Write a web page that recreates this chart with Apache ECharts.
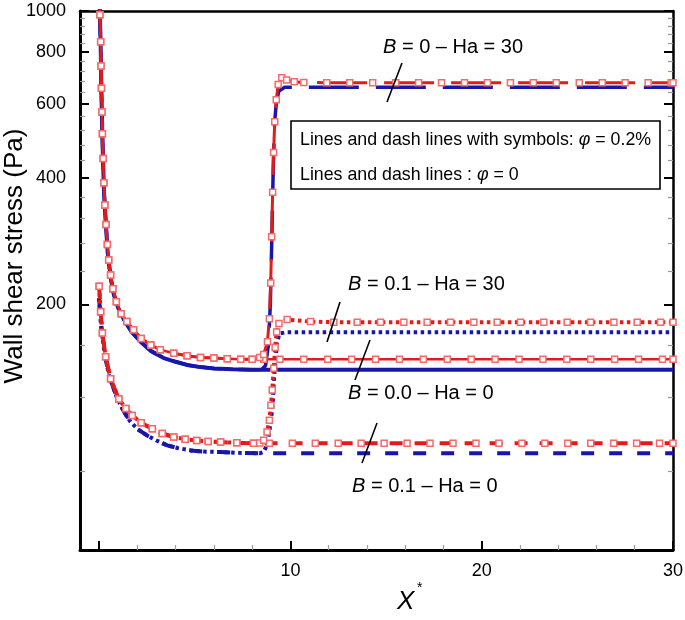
<!DOCTYPE html>
<html>
<head>
<meta charset="utf-8">
<script src="https://cdn.jsdelivr.net/npm/echarts@6/dist/echarts.min.js"></script>
<style>
  html, body { margin: 0; padding: 0; background: #fff; }
  #graph { width: 685px; height: 620px; }
</style>
</head>
<body>
<div id="graph"></div>
<script>
// ---- data: [X*, wall shear stress (Pa)] ----
var upB0Sym = [[0.00, 1150], [0.04, 980], [0.08, 845], [0.10, 740], [0.12, 655], [0.15, 575], [0.17, 510], [0.21, 445],
    [0.25, 390], [0.30, 345], [0.36, 310], [0.43, 278], [0.50, 255], [0.60, 235], [0.72, 218], [0.90, 203], [1.15, 190],
    [1.45, 182], [1.80, 174], [2.20, 166], [2.70, 160], [3.20, 156], [3.90, 153], [4.60, 151], [5.30, 149.5], [6.00, 149],
    [6.70, 148.5], [7.40, 148], [8.00, 148]];
var upB0 = [[0.00, 1150], [0.04, 970], [0.08, 830], [0.12, 640], [0.17, 500], [0.25, 375], [0.34, 318], [0.45, 265],
    [0.60, 232], [0.77, 211], [1.0, 196], [1.3, 184], [1.7, 172], [2.17, 163], [2.7, 155], [3.38, 149], [4.0, 146],
    [4.6, 143.5], [5.3, 141.8], [6.0, 140.8], [7.0, 140.1], [8.0, 139.8]];
var upB01Sym = [[0.0, 221], [0.08, 192], [0.17, 171], [0.34, 150], [0.6, 133], [1.03, 119], [1.4, 113], [1.73, 108.8],
    [2.2, 104.5], [2.78, 101.1], [3.3, 98.5], [3.9, 96.6], [4.5, 95.5], [5.1, 94.8], [5.7, 94.3], [6.35, 94], [7.2, 93.6],
    [8.07, 93.4]];
var upB01 = [[0.0, 207], [0.08, 182], [0.25, 157], [0.51, 135.7], [0.95, 119.3], [1.3, 111], [1.64, 105], [2.0, 101],
    [2.5, 97.5], [3.0, 94.8], [3.56, 92.3], [4.1, 91], [4.78, 89.8], [5.5, 89.2], [6.35, 89], [7.3, 88.6], [8.4, 88.4]];

// downstream parts (after the magnetic field region starts near X* = 9)
var downB0Ha0Sym = [[8.6, 148], [9.45, 148], [10.7, 148], [11.95, 148], [13.2, 148], [14.45, 148], [15.7, 148], [16.95, 148],
    [18.2, 148], [19.45, 148], [20.7, 148], [21.95, 148], [23.2, 148], [24.45, 148], [25.7, 148], [26.95, 148], [28.2, 148],
    [29.45, 148], [30, 148]];
var downB0Ha0 = [[30, 139.8]];
var downB0Ha30Sym = [[8.4, 149.5], [8.6, 152], [8.8, 163], [8.9, 185], [8.97, 225], [9.02, 290], [9.07, 370], [9.12, 460],
    [9.18, 545], [9.26, 615], [9.36, 668], [9.55, 693], [9.8, 685], [10.2, 678], [10.7, 676], [11.9, 675], [13.1, 675],
    [14.3, 675], [15.5, 675], [16.7, 675], [17.9, 675], [19.1, 675], [20.3, 675], [21.5, 675], [22.7, 675], [23.9, 675],
    [25.1, 675], [26.3, 675], [27.5, 675], [28.7, 675], [29.9, 675], [30, 675]];
var downB0Ha30 = [[8.5, 140], [8.7, 143], [8.85, 160], [8.95, 200], [9.03, 290], [9.1, 420], [9.17, 540], [9.27, 610],
    [9.4, 645], [9.7, 658], [30, 658]];
var downB01Ha0Sym = [[8.9, 93.4], [10.1, 93.4], [11.3, 93.4], [12.5, 93.4], [13.7, 93.4], [14.9, 93.4], [16.1, 93.4],
    [17.3, 93.4], [18.5, 93.4], [19.7, 93.4], [20.9, 93.4], [22.1, 93.4], [23.3, 93.4], [24.5, 93.4], [25.7, 93.4],
    [26.9, 93.4], [28.1, 93.4], [29.3, 93.4], [30, 93.4]];
var downB01Ha0 = [[30, 88.4]];
var downB01Ha30Sym = [[8.4, 93.5], [8.6, 95], [8.78, 99.3], [8.9, 106], [8.98, 115], [9.05, 125], [9.13, 141], [9.2, 158],
    [9.28, 172], [9.4, 180], [9.83, 184], [11.05, 182], [12.27, 181.4], [13.49, 181.4], [14.71, 181.4], [15.93, 181.4],
    [17.15, 181.4], [18.37, 181.4], [19.59, 181.4], [20.81, 181.4], [22.03, 181.4], [23.25, 181.4], [24.47, 181.4],
    [25.69, 181.4], [26.91, 181.4], [28.13, 181.4], [29.35, 181.4], [30, 181.4]];
var downB01Ha30 = [[8.6, 89], [8.75, 92], [8.87, 97.5], [8.99, 106.8], [9.08, 117], [9.13, 130.8], [9.22, 148.6],
    [9.3, 163], [9.44, 170.5], [9.75, 171.6], [30, 171.6]];

// axis ticks
var xMajor = [0, 10, 20, 30];
var xLabels = [10, 20, 30];
var xMinor = [2, 4, 6, 8, 12, 14, 16, 18, 22, 24, 26, 28];
var yMajor = [200, 400, 600, 800, 1000];
var yMinor = [80, 120, 160, 240, 280, 320, 360, 440, 480, 520, 560, 640, 680, 720, 760, 840, 880, 920, 960];
var yMin = 52, yMax = 1000;

var RED = '#e31b1b', BLUE = '#1717ad', FONT = 'Liberation Sans';

function lg(arr) {            // log10 of the stress values (log y axis)
    return arr.map(function (v) { return Math.log10(v); });
}
function toLog(pts) {
    return pts.map(function (p) { return [p[0], Math.log10(p[1])]; });
}

var dom = document.getElementById("graph");
var myChart = echarts.init(dom);
var g = {left: 80, top: 11, right: 12, bottom: 70, containLabel: false, outerBoundsMode: 'none'};

function line(name, data, color, width, dash, withSym) {
    return {
        name: name,
        type: 'line',
        xAxisIndex: 0,
        yAxisIndex: 0,
        data: toLog(data),
        showSymbol: !!withSym,
        showAllSymbol: true,
        symbol: 'rect',
        symbolSize: 6,
        itemStyle: {color: '#fff', borderColor: '#f26a6a', borderWidth: 1.5},
        lineStyle: {color: color, width: width, type: dash, cap: 'butt'},
        emphasis: {disabled: true},
        animation: false
    };
}

var txt = function (x, y, s, size) {
    return {
        type: 'text', x: x, y: y, z: 10,
        style: {
            text: s, fill: '#000', verticalAlign: 'middle',
            fontSize: size, fontFamily: FONT,
            rich: {
                i: {fontStyle: 'italic', fontSize: size, fontFamily: FONT, fill: '#000'},
                n: {fontSize: size, fontFamily: FONT, fill: '#000'}
            }
        }
    };
};
var stroke = function (x1, y1, x2, y2) {
    return {type: 'line', z: 10, shape: {x1: x1, y1: y1, x2: x2, y2: y2}, style: {stroke: '#000', lineWidth: 1.6}};
};

var option = {
    backgroundColor: '#fff',
    grid: [g, g, g, g],
    xAxis: [
        {   // bottom, major ticks + labels
            gridIndex: 0, type: 'value', min: -1, max: 30, position: 'bottom',
            axisLine: {onZero: false, lineStyle: {color: '#000', width: 3}},
            axisTick: {inside: true, length: 9, customValues: xMajor, lineStyle: {color: '#000', width: 2}},
            axisLabel: {customValues: xLabels, color: '#000', fontSize: 18, fontFamily: FONT, margin: 12},
            splitLine: {show: false}
        },
        {   // bottom, minor ticks
            gridIndex: 1, type: 'value', min: -1, max: 30, position: 'bottom',
            axisLine: {show: false, onZero: false},
            axisTick: {inside: true, length: 5, customValues: xMinor, lineStyle: {color: '#999', width: 1.2}},
            axisLabel: {show: false}, splitLine: {show: false}
        },
        {   // top border
            gridIndex: 2, type: 'value', min: -1, max: 30, position: 'top',
            axisLine: {onZero: false, lineStyle: {color: '#000', width: 2.5}},
            axisTick: {show: false}, axisLabel: {show: false}, splitLine: {show: false}
        },
        {gridIndex: 3, type: 'value', min: -1, max: 30, show: false}
    ],
    yAxis: [
        {   // left, major ticks + labels
            gridIndex: 0, type: 'value', min: Math.log10(yMin), max: Math.log10(yMax), position: 'left',
            axisLine: {onZero: false, lineStyle: {color: '#000', width: 3}},
            axisTick: {inside: true, length: 9, customValues: lg(yMajor), lineStyle: {color: '#000', width: 2}},
            axisLabel: {
                customValues: lg(yMajor), color: '#000', fontSize: 18, fontFamily: FONT, margin: 14,
                formatter: function (v) { return Math.round(Math.pow(10, v)); }
            },
            splitLine: {show: false}
        },
        {   // left, minor ticks
            gridIndex: 1, type: 'value', min: Math.log10(yMin), max: Math.log10(yMax), position: 'left',
            axisLine: {show: false, onZero: false},
            axisTick: {inside: true, length: 5, customValues: lg(yMinor), lineStyle: {color: '#999', width: 1.2}},
            axisLabel: {show: false}, splitLine: {show: false}
        },
        {   // right border, major ticks
            gridIndex: 2, type: 'value', min: Math.log10(yMin), max: Math.log10(yMax), position: 'right',
            axisLine: {onZero: false, lineStyle: {color: '#000', width: 2.5}},
            axisTick: {inside: true, length: 9, customValues: lg(yMajor), lineStyle: {color: '#000', width: 2}},
            axisLabel: {show: false}, splitLine: {show: false}
        },
        {   // right border, minor ticks
            gridIndex: 3, type: 'value', min: Math.log10(yMin), max: Math.log10(yMax), position: 'right',
            axisLine: {show: false, onZero: false},
            axisTick: {inside: true, length: 5, customValues: lg(yMinor), lineStyle: {color: '#999', width: 1.2}},
            axisLabel: {show: false}, splitLine: {show: false}
        }
    ],
    series: [
        // phi = 0 (blue, no symbols)
        line('B=0 Ha=0 phi=0', upB0.concat(downB0Ha0), BLUE, 4, 'solid', false),
        line('B=0 Ha=30 phi=0', upB0.concat(downB0Ha30), BLUE, 3.5, [50, 17], false),
        line('B=0.1 Ha=0 phi=0', upB01.concat(downB01Ha0), BLUE, 4, [13, 15], false),
        line('B=0.1 Ha=30 phi=0', upB01.concat(downB01Ha30), BLUE, 4, [3.5, 3.5], false),
        // phi = 0.2% (red, with symbols)
        line('B=0 Ha=0 phi=0.2', upB0Sym.concat(downB0Ha0Sym), RED, 2.5, 'solid', true),
        line('B=0 Ha=30 phi=0.2', upB0Sym.concat(downB0Ha30Sym), RED, 3, [50, 17], true),
        line('B=0.1 Ha=0 phi=0.2', upB01Sym.concat(downB01Ha0Sym), RED, 4, [13, 12], true),
        line('B=0.1 Ha=30 phi=0.2', upB01Sym.concat(downB01Ha30Sym), RED, 4, [3.5, 3.5], true)
    ],
    graphic: [
        {   // y axis title
            type: 'text', x: 15, y: 256, rotation: Math.PI / 2, z: 10,
            style: {text: 'Wall shear stress (Pa)', fill: '#000', fontSize: 26, fontFamily: FONT,
                align: 'center', verticalAlign: 'middle'}
        },
        txt(383, 47, '{i|B}{n| = 0 – Ha = 30}', 20),
        stroke(402, 63, 387, 102),
        txt(348, 284, '{i|B}{n| = 0.1 – Ha = 30}', 20),
        stroke(340, 302, 327, 342),
        txt(348, 393, '{i|B}{n| = 0.0 – Ha = 0}', 20),
        stroke(370, 340, 355, 380),
        txt(352, 486, '{i|B}{n| = 0.1 – Ha = 0}', 20),
        stroke(377, 423, 362, 463),
        {
            type: 'rect', z: 9, shape: {x: 291, y: 121, width: 369, height: 68},
            style: {fill: '#fff', stroke: '#000', lineWidth: 1.6}
        },
        txt(300, 140, '{n|Lines and dash lines with symbols: }{i|φ}{n| = 0.2%}', 17.8),
        txt(300, 175, '{n|Lines and dash lines : }{i|φ}{n| = 0}', 17.8),
        {
            type: 'text', x: 397, y: 602, z: 10,
            style: {text: 'X', fill: '#000', fontSize: 26, fontStyle: 'italic', fontFamily: FONT, verticalAlign: 'middle'}
        },
        {
            type: 'text', x: 417, y: 588, z: 10,
            style: {text: '*', fill: '#000', fontSize: 14, fontFamily: FONT, verticalAlign: 'middle'}
        }
    ]
};

if (option && typeof option === "object") {
    myChart.setOption(option, true);
}
</script>
</body>
</html>
